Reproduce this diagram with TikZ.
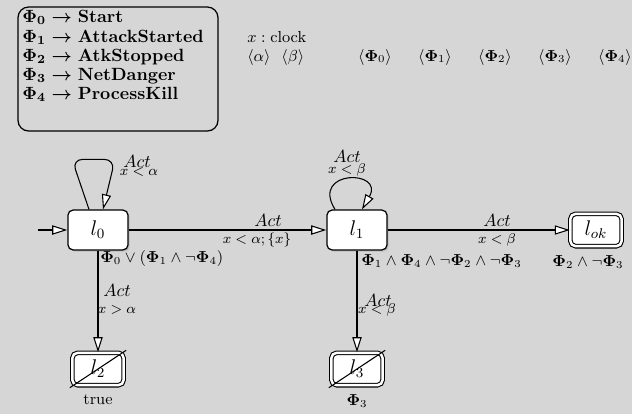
\documentclass[tikz,border=0pt]{standalone}
\usepackage{amsmath,amssymb}
\usetikzlibrary{arrows.meta,shadows,calc}
\definecolor{bg}{RGB}{214,214,214}
\tikzset{
  loc/.style={draw, fill=white, rounded corners=3pt, line width=0.7pt,
    minimum width=34pt, minimum height=22.6pt, font=\large,
    drop shadow={shadow xshift=0.9pt, shadow yshift=-0.9pt, opacity=0.3}},
  fin/.style={draw, double, double distance=1.4pt, fill=white, rounded corners=3pt, line width=0.6pt,
    minimum width=29pt, minimum height=18.3pt, font=\large,
    drop shadow={shadow xshift=1.1pt, shadow yshift=-1.1pt, opacity=0.3}},
  arr/.style={line width=0.6pt, -{Triangle[fill=white, length=8.5pt, width=5.2pt]}},
  act/.style={inner sep=0pt},
  grd/.style={inner sep=0pt, font=\footnotesize},
  inv/.style={inner sep=0pt, font=\small},
  leg/.style={inner sep=0pt, anchor=base west},
}
\begin{document}
\begin{tikzpicture}[x=0.565pt, y=-0.565pt]
\fill[bg] (0,0) rectangle (632,414);
\useasboundingbox (0,0) rectangle (632,414);

% legend
\draw[line width=0.7pt, rounded corners=6pt] (18,7) rectangle (218,131);
\node[leg] (g0) at (22,22) {{\boldmath$\Phi_0\rightarrow$} \textbf{Start}};
\node[leg] (g1) at (22,42) {{\boldmath$\Phi_1\rightarrow$} \textbf{AttackStarted}};
\node[leg] (g2) at (22,61) {{\boldmath$\Phi_2\rightarrow$} \textbf{AtkStopped}};
\node[leg] (g3) at (22,80) {{\boldmath$\Phi_3\rightarrow$} \textbf{NetDanger}};
\node[leg] (g4) at (22,99) {{\boldmath$\Phi_4\rightarrow$} \textbf{ProcessKill}};

\node[leg, font=\small] (clk) at (247,42) {$x:\text{clock}$};
\node[leg, font=\small] (par) at (247,61) {$\langle\alpha\rangle\ \ \langle\beta\rangle$};
\foreach \i in {0,...,4}{
  \node[inv, anchor=base] (p\i) at (375+60*\i,61) {$\langle\mathbf{\Phi}_{\i}\rangle$};
}

% locations
\node[loc] (l0) at (98,230) {$l_0$};
\node[loc] (l1) at (357,230) {$l_1$};
\node[fin] (lok) at (596,230) {$l_{ok}$};
\node[fin] (l2) at (98,369) {$l_2$};
\node[fin] (l3) at (357,369) {$l_3$};
\draw[line width=0.6pt] ($(l2.south west)+(-2,2)$) -- ($(l2.north east)+(2,-2)$);
\draw[line width=0.6pt] ($(l3.south west)+(-2,2)$) -- ($(l3.north east)+(2,-2)$);
\coordinate (init) at (38,230);

% edges
\draw[arr] (init) -- (l0);
\draw[arr, rounded corners=6pt] ($(l0.north)+(-9,0)$) -- ++(-17,-50) -- ++(43,0) -- ($(l0.north)+(5,0)$);
\draw[arr] ($(l1.north)+(-22,0)$) .. controls +(-25,-40) and +(23,-40) .. ($(l1.north)+(5,0)$);
\draw[arr] (l0) -- (l1);
\draw[arr] (l1) -- (lok);
\draw[arr] (l0) -- (l2);
\draw[arr] (l1) -- (l3);

% edge labels
\node[act] (a00) at (137,161) {$Act$};
\node[grd] (g00) at (139,172) {$x<\alpha$};
\node[act] (a11) at (347,156) {$Act$};
\node[grd] (g11) at (347,170) {$x<\beta$};
\node[act] (a01) at (268,220) {$Act$};
\node[grd] (g01) at (257,240) {$x<\alpha;\{x\}$};
\node[act] (a1k) at (497,220) {$Act$};
\node[grd] (g1k) at (497,240) {$x<\beta$};
\node[act] (a02) at (117,290) {$Act$};
\node[grd] (g02) at (117,310) {$x>\alpha$};
\node[act] (a13) at (378,300) {$Act$};
\node[grd] (g13) at (377,310) {$x<\beta$};

% invariants
\node[inv, anchor=west] (i0) at (100,259) {$\mathbf{\Phi}_0\vee(\mathbf{\Phi}_1\wedge\neg\mathbf{\Phi}_4)$};
\node[inv, anchor=west] (i1) at (361,261) {$\mathbf{\Phi}_1\wedge\mathbf{\Phi}_4\wedge\neg\mathbf{\Phi}_2\wedge\neg\mathbf{\Phi}_3$};
\node[inv] (ik) at (588,262) {$\mathbf{\Phi}_2\wedge\neg\mathbf{\Phi}_3$};
\node[inv] (i2) at (98,400) {true};
\node[inv] (i3) at (357,401) {$\mathbf{\Phi}_3$};
\end{tikzpicture}
\end{document}
